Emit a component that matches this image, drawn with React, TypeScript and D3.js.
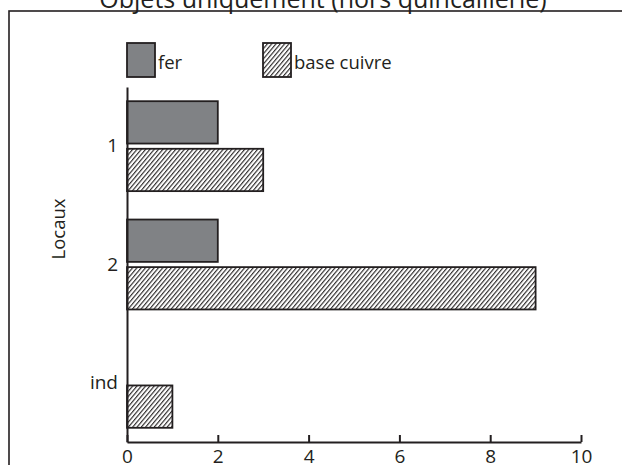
import { useEffect, useRef } from 'react'
import * as d3 from 'd3'

const locaux = ['1', '2', 'ind']
const series = ['fer', 'base cuivre']
const fer = [2, 2, 0]
const baseCuivre = [3, 9, 1]
const xTicks = [0, 2, 4, 6, 8, 10]

const W = 622
const H = 465
const INK = '#231f20'
const FONT = '"Open Sans", "Noto Sans", sans-serif'

export default function App() {
  const ref = useRef<SVGSVGElement | null>(null)

  useEffect(() => {
    const svg = d3.select(ref.current)
    svg.selectAll('*').remove()

    // hatch pattern for "base cuivre"
    const defs = svg.append('defs')
    defs
      .append('pattern')
      .attr('id', 'hatch')
      .attr('patternUnits', 'userSpaceOnUse')
      .attr('width', 3.3)
      .attr('height', 10)
      .attr('patternTransform', 'rotate(40)')
      .append('line')
      .attr('x1', 0.6)
      .attr('x2', 0.6)
      .attr('y1', 0)
      .attr('y2', 10)
      .attr('stroke', INK)
      .attr('stroke-width', 1.1)

    const fills: Record<string, string> = { fer: '#808285', 'base cuivre': 'url(#hatch)' }

    // outer frame (runs off the picture on right and bottom)
    svg
      .append('rect')
      .attr('x', 9)
      .attr('y', 11)
      .attr('width', 700)
      .attr('height', 500)
      .attr('fill', 'none')
      .attr('stroke', INK)
      .attr('stroke-width', 1.6)

    svg
      .append('text')
      .attr('x', 323)
      .attr('y', 7.5)
      .attr('text-anchor', 'middle')
      .attr('font-family', FONT)
      .attr('font-size', 25)
      .attr('fill', INK)
      .text('Objets uniquement (hors quincaillerie)')

    const xScale = d3.scaleLinear().domain([0, 10]).range([127, 581])
    const yScale = d3.scaleBand().domain(locaux).range([87, 442]).paddingInner(0.24).paddingOuter(0.12)
    const inner = d3.scaleBand().domain(series).range([0, yScale.bandwidth()]).paddingInner(0.11)

    const rows = locaux.map((l, i) => ({ l, values: [fer[i], baseCuivre[i]] }))

    const groups = svg
      .selectAll('.grp')
      .data(rows)
      .enter()
      .append('g')
      .attr('class', 'grp')
      .attr('transform', (d) => `translate(0,${yScale(d.l)})`)

    groups
      .selectAll('rect')
      .data((d) => d.values.map((v, j) => ({ s: series[j], v })).filter((e) => e.v > 0))
      .enter()
      .append('rect')
      .attr('x', xScale(0))
      .attr('y', (d) => inner(d.s)!)
      .attr('width', (d) => xScale(d.v) - xScale(0))
      .attr('height', inner.bandwidth())
      .attr('fill', (d) => fills[d.s])
      .attr('stroke', INK)
      .attr('stroke-width', 1.8)

    // x axis
    const xAxis = svg
      .append('g')
      .attr('transform', 'translate(0,442)')
      .call(d3.axisBottom(xScale).tickValues(xTicks).tickSizeInner(-7).tickSizeOuter(0).tickPadding(7.5))
    xAxis.select('.domain').attr('stroke', INK).attr('stroke-width', 2.2)
    xAxis.selectAll('.tick line').attr('stroke', INK).attr('stroke-width', 2)
    xAxis
      .selectAll('.tick text')
      .attr('font-family', FONT)
      .attr('font-size', 19)
      .attr('fill', INK)

    // y axis
    const yAxis = svg
      .append('g')
      .attr('transform', `translate(${xScale(0)},0)`)
      .call(d3.axisLeft(yScale).tickSize(0).tickPadding(9))
    yAxis.select('.domain').attr('stroke', INK).attr('stroke-width', 2)
    yAxis
      .selectAll('.tick text')
      .attr('font-family', FONT)
      .attr('font-size', 19)
      .attr('fill', INK)

    svg
      .append('text')
      .attr('transform', 'translate(65,229) rotate(-90)')
      .attr('text-anchor', 'middle')
      .attr('font-family', FONT)
      .attr('font-size', 18.5)
      .attr('fill', INK)
      .text('Locaux')

    // legend
    const legend = [
      { s: 'fer', x: 127 },
      { s: 'base cuivre', x: 263 },
    ]
    const lg = svg
      .selectAll('.lg')
      .data(legend)
      .enter()
      .append('g')
      .attr('class', 'lg')
      .attr('transform', (d) => `translate(${d.x},43)`)
    lg.append('rect')
      .attr('width', 28)
      .attr('height', 34)
      .attr('fill', (d) => fills[d.s])
      .attr('stroke', INK)
      .attr('stroke-width', 1.8)
    lg.append('text')
      .attr('x', 31)
      .attr('y', 26)
      .attr('font-family', FONT)
      .attr('font-size', 18.5)
      .attr('fill', INK)
      .text((d) => d.s)
  }, [])

  return (
    <svg
      ref={ref}
      width={W}
      height={H}
      style={{ position: 'absolute', left: 0, top: 0, background: '#fff' }}
    />
  )
}
